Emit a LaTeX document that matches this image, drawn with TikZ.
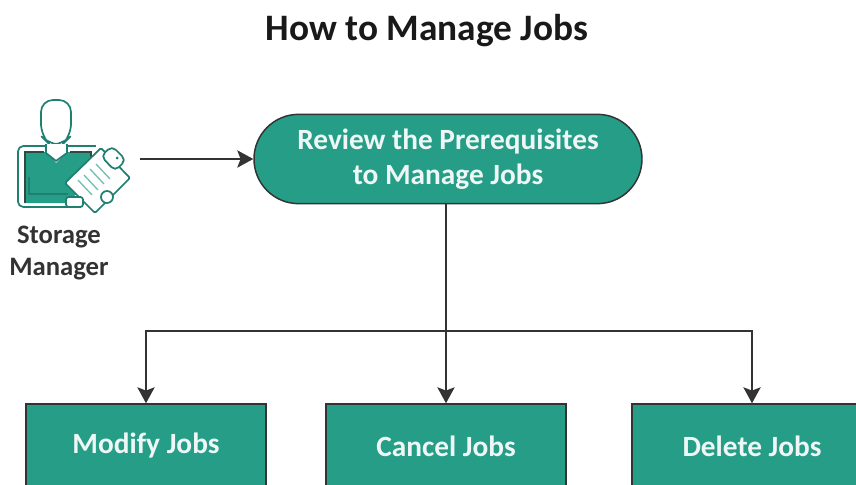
\documentclass[tikz,border=0pt]{standalone}
\usepackage{fontspec}
\setmainfont{Carlito}
\usetikzlibrary{arrows.meta,calc}
\definecolor{jobgreen}{HTML}{269E87}
\definecolor{icongreen}{HTML}{1F7F70}
\definecolor{lineblack}{HTML}{333333}
\tikzset{
  stepstyle/.style={draw=lineblack, line width=1.1pt, fill=jobgreen, text=white!92!jobgreen, font=\bfseries\fontsize{22}{26}\selectfont, align=center, inner sep=0pt},
  jobbox/.style={stepstyle, minimum width=180pt, minimum height=63pt},
  pillbox/.style={stepstyle, rounded corners=33.5pt, minimum width=291pt, minimum height=67pt},
  flowline/.style={line width=1.2pt, draw=lineblack, -{Stealth[length=12pt,width=13pt,inset=2.5pt]}},
  iconline/.style={draw=icongreen, line width=1.3pt, line join=round},
}
\begin{document}
\begin{tikzpicture}[x=0.75pt,y=-0.75pt]%
%
\useasboundingbox (0,0) rectangle (856,485);
\clip (0,0) rectangle (856,485);
%
\node[font=\bfseries\fontsize{28}{32}\selectfont, text=black!90] (title) at (427,31) {How to Manage Jobs};
%
\node[pillbox] (review) at (448,159) {Review the Prerequisites\\to Manage Jobs};
\node[jobbox] (modify) at (146,446) {Modify Jobs};
\node[jobbox] (cancel) at (446,446) {Cancel Jobs};
\node[jobbox] (delete) at (752,446) {Delete Jobs};
%
% storage manager icon
\draw[iconline, rounded corners=4pt] (46,146) -- (18,146) -- (18,207) -- (72,207);
\draw[iconline] (67,146) -- (96,146);
\fill[jobgreen] (25,152) -- (47,152) -- (56,163) -- (68,152) -- (91,152) -- (91,178) -- (68,203) -- (25,203) -- cycle;
\draw[lineblack!70!icongreen, line width=1.3pt] (25,203) -- (25,152) -- (44,152) (70,152) -- (91,152) -- (91,165);
\draw[icongreen, line width=1.3pt] (29,177) -- (29,194) -- (68,194);
\draw[iconline, fill=white, rounded corners=9pt] (41,100) -- (71,100) -- (71,136) -- (62,145) -- (50,145) -- (41,136) -- cycle;
\draw[iconline, fill=white] (46,144) -- (46,153) -- (56,161) -- (67,153) -- (67,144);
% clipboard
\draw[iconline, fill=white, rounded corners=1pt] (101,148) -- (130,178) -- (95,213) -- (65,183) -- cycle;
\draw[iconline, fill=white, rounded corners=4pt] (101,156) -- (112,146) -- (126,160) -- (115,171) -- cycle;
\fill[icongreen] (117,158) circle[radius=1.5];
\draw[jobgreen!65, line width=1pt] (78,180) -- (92,195) (84,175) -- (98,190) (90,169) -- (104,184) (96,164) -- (110,179);
\draw[iconline, fill=white] (107,197) circle[radius=6];
\draw[iconline, fill=white, rounded corners=2pt] (66,197) rectangle (83,207);
%
\node[font=\bfseries\fontsize{20}{24}\selectfont, text=lineblack, align=center] (manager) at (59,253) {Storage\\Manager};
\coordinate (iconright) at (140,159);
\coordinate (branch) at (446,331);
%
\draw[flowline] (iconright) -- (review.west);
\draw[flowline] (review.south -| branch) -- (cancel.north);
\draw[flowline] (branch) -| (modify.north);
\draw[flowline] (branch) -| (delete.north);
%
\end{tikzpicture}
\end{document}
